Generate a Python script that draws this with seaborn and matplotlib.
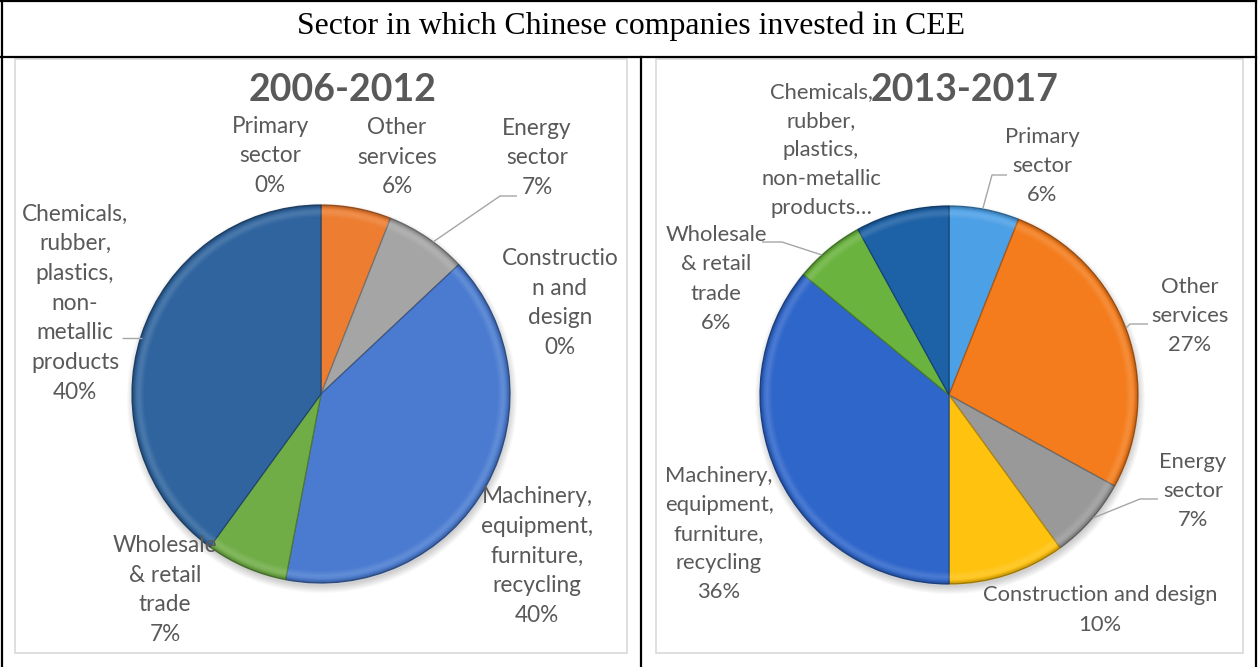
import numpy as np
import matplotlib
matplotlib.use("Agg")
import matplotlib.pyplot as plt
from matplotlib.patches import Rectangle, Circle
from matplotlib.colors import to_rgb
import seaborn as sns

# ---- data -------------------------------------------------------------
sectors = [
    "Primary sector", "Other services", "Energy sector",
    "Construction and design", "Machinery, equipment, furniture, recycling",
    "Wholesale & retail trade",
    "Chemicals, rubber, plastics, non-metallic products",
]
period_titles = ["2006-2012", "2013-2017"]
share_2006_2012 = [0, 6, 7, 0, 40, 7, 40]
share_2013_2017 = [6, 27, 7, 10, 36, 6, 8]

# wrapped category names as they appear on each chart
names_2006_2012 = [
    "Primary\nsector", "Other\nservices", "Energy\nsector",
    "Constructio\nn and\ndesign", "Machinery,\nequipment,\nfurniture,\nrecycling",
    "Wholesale\n& retail\ntrade",
    "Chemicals,\nrubber,\nplastics,\nnon-\nmetallic\nproducts",
]
names_2013_2017 = [
    "Primary\nsector", "Other\nservices", "Energy\nsector",
    "Construction and design", "Machinery,\nequipment,\nfurniture,\nrecycling",
    "Wholesale\n& retail\ntrade",
    "Chemicals,\nrubber,\nplastics,\nnon-metallic\nproducts\u2026",
]
show_pct_2013_2017 = [True, True, True, True, True, True, False]

# ---- styling ----------------------------------------------------------
colors_2006_2012 = ["#5B9BD5", "#ED7D31", "#A5A5A5", "#FFC000",
                    "#4A7BD0", "#70AD47", "#2F649E"]
colors_2013_2017 = ["#4CA0E6", "#F47C1C", "#999999", "#FFC20E",
                    "#2F66CA", "#6AB33E", "#1D61A6"]

sns.set_theme(style="white")
plt.rcParams["font.family"] = ["Lato", "DejaVu Sans"]

W, H = 1258, 667
fig = plt.figure(figsize=(W / 100, H / 100), dpi=100)
ax = fig.add_axes([0, 0, 1, 1])


def Y(y):
    """Convert a top-down pixel row into the axes' y-up coordinate."""
    return H - y


LABEL_COLOR = "#595959"
LEADER_COLOR = "#A6A6A6"


def darker(c, f=0.75):
    r, g, b = to_rgb(c)
    return (r * f, g * f, b * f)


def draw_pie(values, colors, cx, cy, r):
    wedges, _ = ax.pie(values, colors=colors, startangle=90, counterclock=False,
                       center=(cx, Y(cy)), radius=r,
                       wedgeprops=dict(linewidth=0.9))
    for w, c in zip(wedges, colors):
        w.set_edgecolor(darker(c, 0.7))
        w.set_zorder(3)
    # soft drop shadow under the disc
    for k in range(8):
        ax.add_patch(Circle((cx + 1, Y(cy) - 4), r + 6 - k, color="black",
                            alpha=0.022, lw=0, zorder=2))
    # rim bevel: faint light band just inside the edge, darker at the edge
    n = 400
    g = np.linspace(-1, 1, n)
    xx, yy = np.meshgrid(g, g)
    rr = np.sqrt(xx ** 2 + yy ** 2)
    img = np.zeros((n, n, 4))
    hi = np.clip(1 - np.abs(rr - 0.965) / 0.03, 0, 1)
    lo = np.clip((rr - 0.98) / 0.02, 0, 1)
    img[..., :3] = 1.0
    img[..., 3] = 0.14 * hi
    img2 = np.zeros((n, n, 4))
    img2[..., 3] = 0.22 * lo
    clip = Circle((cx, Y(cy)), r, transform=ax.transData)
    for im_arr in (img, img2):
        im = ax.imshow(im_arr, extent=(cx - r, cx + r, Y(cy) - r, Y(cy) + r),
                       origin="lower", zorder=4, interpolation="bilinear")
        im.set_clip_path(clip)


def label(text, x, y, size=16.3, spacing=1.51):
    ax.text(x, Y(y), text, ha="center", va="center", ma="center",
            fontsize=size, color=LABEL_COLOR, linespacing=spacing, zorder=6)


def leader(points):
    xs = [p[0] for p in points]
    ys = [Y(p[1]) for p in points]
    ax.plot(xs, ys, color=LEADER_COLOR, lw=1.0, zorder=5,
            solid_capstyle="butt")


# ---- table frame ------------------------------------------------------
frame_kw = dict(color="black", lw=1.6, zorder=10, solid_capstyle="projecting")
ax.plot([1, 1256], [Y(1), Y(1)], **frame_kw)
ax.plot([1.5, 1.5], [Y(1), Y(667)], **frame_kw)
ax.plot([1255.5, 1255.5], [Y(1), Y(667)], **frame_kw)
ax.plot([1, 1256], [Y(57), Y(57)], **frame_kw)
ax.plot([640.5, 640.5], [Y(57), Y(667)], **frame_kw)

ax.text(631, Y(26), "Sector in which Chinese companies invested in CEE",
        ha="center", va="center", fontsize=22.9,
        family=["Liberation Serif", "DejaVu Serif"], color="black")

# chart areas
for x0, x1 in [(15, 627), (656, 1243)]:
    ax.add_patch(Rectangle((x0, Y(653)), x1 - x0, 653 - 59, fill=False,
                           edgecolor="#D9D9D9", lw=1.2, zorder=1))

# ---- left chart -------------------------------------------------------
draw_pie(share_2006_2012, colors_2006_2012, 321, 394, 189)
ax.text(343, Y(90), period_titles[0], ha="center", va="center",
        fontsize=27, fontweight="bold", color=LABEL_COLOR, zorder=6)

pos_2006_2012 = [(270, 156), (397, 157), (537, 158), (560, 303),
                 (537, 556), (165, 590), (75, 303)]
for name, v, (lx, ly) in zip(names_2006_2012, share_2006_2012, pos_2006_2012):
    label(f"{name}\n{v}%", lx, ly)
leader([(517, 196), (500, 196), (433, 242)])
leader([(122, 338), (142, 338)])

# ---- right chart ------------------------------------------------------
draw_pie(share_2013_2017, colors_2013_2017, 949, 395, 189)
ax.text(965, Y(90), period_titles[1], ha="center", va="center",
        fontsize=27, fontweight="bold", color=LABEL_COLOR, zorder=6)

pos_2013_2017 = [(1042, 166), (1190, 316), (1193, 491), (1100, 610),
                 (719, 534), (716, 279), (821, 150)]
for name, v, show, (lx, ly) in zip(names_2013_2017, share_2013_2017,
                                   show_pct_2013_2017, pos_2013_2017):
    label(f"{name}\n{v}%" if show else name, lx, ly, size=15.8, spacing=1.57)
leader([(1007, 175), (992, 175), (983, 208)])
leader([(1148, 324), (1130, 324), (1126, 328)])
leader([(1158, 499), (1140, 499), (1093, 518)])
leader([(762, 242), (782, 242), (822, 255)])

ax.set_xlim(0, W)
ax.set_ylim(0, H)
ax.set_aspect("equal")
ax.axis("off")

fig.savefig("out.png", dpi=100, facecolor="white")
